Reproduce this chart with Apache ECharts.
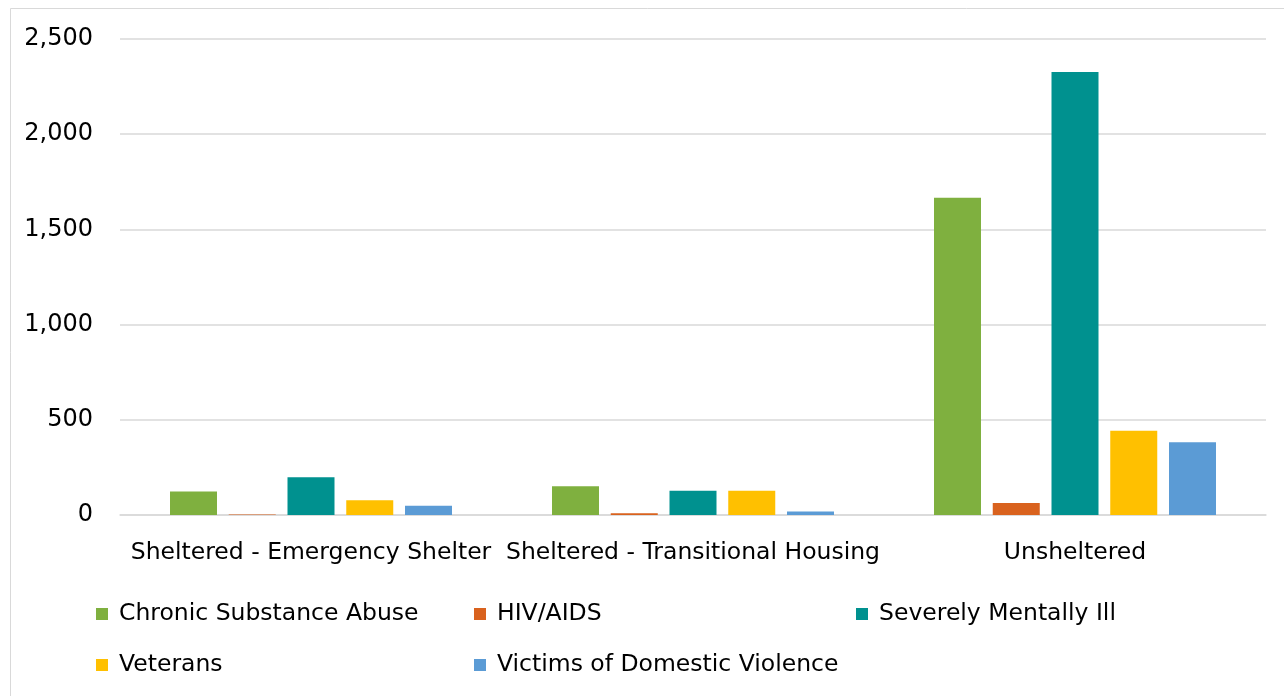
<!DOCTYPE html>
<html>
<head>
<meta charset="utf-8">
<script src="https://cdn.jsdelivr.net/npm/echarts@6/dist/echarts.min.js"></script>
<style>
  html, body { margin: 0; padding: 0; background: #fff; }
  #chart { width: 1284px; height: 696px; }
</style>
</head>
<body>
<div id="chart"></div>
<script>
// Homeless subpopulations by shelter status
const categories = ['Sheltered - Emergency Shelter', 'Sheltered - Transitional Housing', 'Unsheltered'];
const seriesNames = ['Chronic Substance Abuse', 'HIV/AIDS', 'Severely Mentally Ill', 'Veterans', 'Victims of Domestic Violence'];
const chronicSubstanceAbuse = [124, 151, 1666];
const hivAids = [3, 9, 63];
const severelyMentallyIll = [198, 128, 2327];
const veterans = [77, 127, 443];
const domesticViolence = [49, 19, 382];
const yTicks = [0, 500, 1000, 1500, 2000, 2500];
const colors = ['#7FB03F', '#D9621E', '#00918F', '#FFC000', '#5B9BD5'];

const seriesValues = [chronicSubstanceAbuse, hivAids, severelyMentallyIll, veterans, domesticViolence];
const FONT = 'DejaVu Sans';

const chart = echarts.init(document.getElementById('chart'), null, { renderer: 'canvas' });

// One legend block per entry so the columns line up on a fixed grid
const legendSlots = [[96, 602], [474, 602], [856, 602], [96, 653], [474, 653]];
const legends = seriesNames.map((name, i) => ({
  data: [name],
  left: legendSlots[i][0],
  top: legendSlots[i][1],
  padding: 0,
  itemWidth: 12,
  itemHeight: 12,
  itemGap: 0,
  icon: 'rect',
  textStyle: { fontFamily: FONT, fontSize: 23.5, color: '#000', padding: [0, 0, 0, 6] },
  selectedMode: false
}));

chart.setOption({
  animation: false,
  backgroundColor: '#fff',
  color: colors,
  graphic: [{
    type: 'rect',
    shape: { x: 10.5, y: 8.5, width: 1290, height: 700 },
    style: { fill: 'none', stroke: '#d9d9d9', lineWidth: 1 },
    silent: true
  }],
  grid: { left: 120, right: 18, top: 39, bottom: 181, containLabel: false },
  legend: legends,
  xAxis: {
    type: 'category',
    data: categories,
    axisLine: { lineStyle: { color: '#d9d9d9', width: 1.5 } },
    axisTick: { show: false },
    axisLabel: { fontFamily: FONT, fontSize: 23.5, color: '#000', margin: 26, interval: 0 }
  },
  yAxis: {
    type: 'value',
    min: yTicks[0],
    max: yTicks[yTicks.length - 1],
    interval: yTicks[1] - yTicks[0],
    axisLine: { show: false },
    axisTick: { show: false },
    splitLine: { lineStyle: { color: '#d9d9d9', width: 1.5 } },
    axisLabel: {
      fontFamily: FONT, fontSize: 24, color: '#000', margin: 27,
      formatter: v => v.toLocaleString('en-US')
    }
  },
  series: seriesNames.map((name, i) => ({
    name,
    type: 'bar',
    data: seriesValues[i],
    barWidth: 47,
    barGap: '25%',
    itemStyle: { color: colors[i] }
  }))
});
</script>
</body>
</html>
